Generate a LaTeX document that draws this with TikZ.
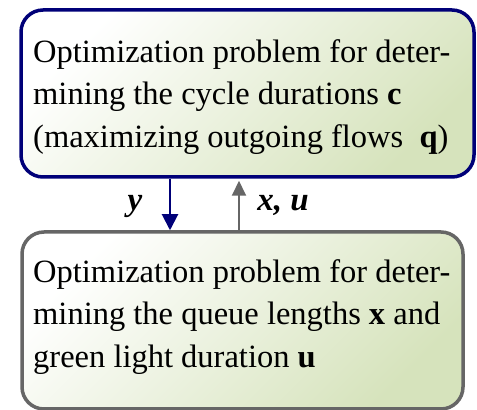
\documentclass[tikz,border=0pt]{standalone}
\usepackage{fontspec}
\setmainfont{Liberation Serif}
\usetikzlibrary{arrows.meta}
\definecolor{boxnavy}{RGB}{0,0,120}
\definecolor{boxgray}{RGB}{102,102,102}
\definecolor{fillg}{RGB}{214,227,188}
\begin{document}
\begin{tikzpicture}[x=1pt,y=1pt,
  panel/.style={draw, line width=3.5pt, rounded corners=22pt, top color=white, bottom color=fillg, shading angle=45},
  txt/.style={anchor=north west, inner sep=0pt, align=left, font=\fontsize{32.5}{42.5}\selectfont},
  lbl/.style={inner sep=0pt, font=\fontsize{33}{40}\selectfont\bfseries\itshape},
  navyarrow/.style={draw=boxnavy, line width=2pt, -{Triangle[width=16pt,length=16pt]}},
  grayarrow/.style={draw=boxgray, line width=2pt, -{Triangle[width=14pt,length=15pt]}}
]
\useasboundingbox (0,0) rectangle (477,410);
\node[panel, draw=boxnavy, minimum width=453pt, minimum height=167pt] (top) at (247.5,316.5) {};
\node[panel, draw=boxgray, minimum width=441pt, minimum height=177pt] (bot) at (242.5,89.5) {};
\node[txt] (toptext) at (33,371) {Optimization problem for deter-\\mining the cycle durations \textbf{c}\\(maximizing outgoing flows\ \ \textbf{q})};
\node[txt] (bottext) at (33,151) {Optimization problem for deter-\\mining the queue lengths \textbf{x} and\\green light duration \textbf{u}};
\coordinate (dtop) at (top.south -| 170,0);
\coordinate (dbot) at (bot.north -| 170,0);
\coordinate (ubot) at (bot.north -| 239,0);
\coordinate (utop) at ([yshift=-2pt]top.south -| 239,0);
\draw[navyarrow] (dtop) -- (dbot);
\draw[grayarrow] (ubot) -- (utop);
\node[lbl] (ylbl) at (135,204) {y};
\node[lbl] (xulbl) at (283,205) {x, u};
\end{tikzpicture}
\end{document}
